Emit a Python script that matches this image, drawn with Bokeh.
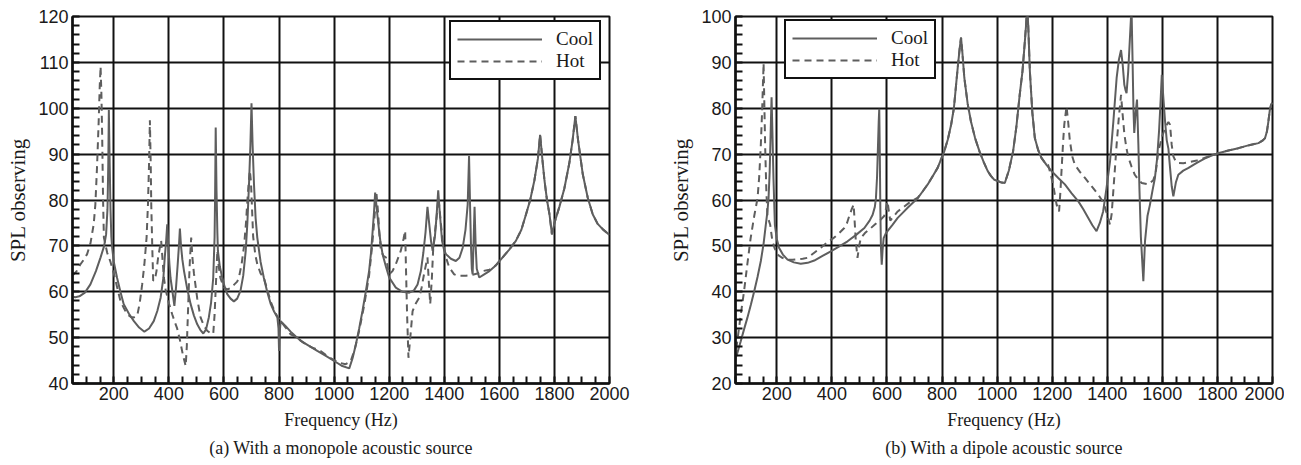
from bokeh.plotting import figure
from bokeh.models import Range1d, FixedTicker, Title, Legend, LegendItem
from bokeh.layouts import row
from bokeh.embed import file_html
from bokeh.resources import INLINE

# ---------------- (a) monopole source ----------------
mono_cool_f = [50, 60, 75, 95, 115, 135, 152, 165, 172, 177, 180, 182, 185, 188, 191, 194, 200, 212, 224, 236,
               255, 273, 292, 311, 328, 345, 358, 370, 380, 385, 390, 394, 398, 402, 406, 413, 420, 426, 432, 437,
               440, 444, 449, 455, 467, 479, 491, 503, 514, 525, 535, 545, 553, 561, 566, 568, 570, 573, 576, 578,
               585, 594, 603, 612, 624, 636, 648, 660, 670, 679, 685, 691, 696, 700, 704, 709, 715, 721, 733, 745,
               757, 770, 782, 794, 798, 800, 802, 806, 824, 842, 860, 879, 909, 939, 970, 1000, 1030, 1055, 1067, 1079,
               1091, 1103, 1115, 1127, 1134, 1140, 1145, 1149, 1155, 1161, 1168, 1176, 1188, 1200, 1224, 1248, 1273, 1290, 1303, 1315,
               1324, 1332, 1339, 1345, 1352, 1358, 1366, 1372, 1378, 1384, 1392, 1399, 1406, 1424, 1442, 1455, 1467, 1477, 1485, 1490,
               1494, 1497, 1500, 1503, 1506, 1510, 1514, 1518, 1527, 1545, 1564, 1588, 1612, 1636, 1660, 1680, 1697, 1712, 1727, 1740,
               1748, 1756, 1764, 1773, 1782, 1791, 1800, 1818, 1836, 1854, 1866, 1876, 1886, 1903, 1921, 1939, 1957, 1976, 2000]
mono_cool_spl = [58.9, 58.8, 59.0, 59.8, 61.6, 64.5, 67.5, 70.0, 72.5, 78, 88, 99.6, 88, 78, 72, 69.6, 66.5, 63, 60, 57.3,
                 55.2, 53.6, 52.2, 51.3, 52.0, 53.6, 55.8, 58.7, 63, 67.5, 71, 74.7, 70, 66, 63, 60, 56.9, 61, 66, 70.5,
                 73.8, 70, 67, 64.5, 60.5, 57.3, 54.8, 52.9, 51.7, 50.9, 51.8, 54.4, 57.5, 63, 72, 82, 95.8, 82, 73, 68.9,
                 65.5, 63, 61, 59.5, 58.5, 57.9, 58.5, 60.2, 63.5, 68.9, 75, 83.5, 92, 101.1, 92, 83.5, 76, 71.8, 66.5, 63,
                 60, 57.3, 55.7, 54.4, 52, 47.1, 51, 53.6, 52.5, 51.3, 50.3, 49.3, 48.2, 47.1, 46.0, 44.9, 43.8, 43.3, 45.5, 48.5,
                 52, 55.8, 60, 64.5, 68.5, 73.3, 77.5, 81.6, 78, 74.5, 71, 68.2, 65.5, 63.1, 60.9, 60.0, 59.8, 60.3, 61.6, 64.5,
                 68.5, 73, 78.5, 75, 71, 68.9, 72, 76.5, 82.1, 77, 71.1, 69.2, 68.2, 67.2, 66.7, 67.4, 69.6, 73.5, 79, 89.6,
                 78, 70, 65, 63.8, 70, 78.5, 70, 65, 63.1, 63.8, 64.5, 65.8, 67.5, 69.2, 71.1, 73.5, 76.9, 80, 84.2, 89,
                 94.2, 89, 84.2, 80, 76.9, 72.5, 75, 78.5, 82.5, 88, 93, 98.3, 93, 85.6, 80.5, 76.9, 74.8, 73.6, 72.4]

mono_hot_f_low = [50, 65, 79, 91, 103, 115, 127, 133, 139, 145, 149, 152, 155, 158, 161, 164, 176, 188, 200, 212,
                  224, 236, 248, 262, 273, 285, 294, 303, 311, 319, 324, 328, 331, 334, 336, 340, 343, 349, 355, 361,
                  367, 372, 377, 382, 388, 400, 412, 421, 430, 440, 450, 461, 465, 469, 473, 476, 481, 486, 491, 503,
                  515, 527, 539, 550, 561, 566, 571, 576, 580, 587, 600, 612, 624, 636, 648, 654, 664, 673, 680, 685,
                  690, 694, 698, 702, 706, 714, 721, 733, 745, 757, 770, 782, 794, 806, 824, 842, 860, 891, 921, 951,
                  980, 1000, 1020, 1042, 1060, 1075, 1091, 1109, 1127, 1138, 1145, 1150, 1154, 1160, 1165, 1170, 1179, 1188, 1200, 1212,
                  1224, 1242, 1252, 1258, 1261, 1265, 1270, 1278, 1285, 1297, 1309, 1318, 1327, 1339, 1344, 1349, 1355, 1360, 1370, 1379,
                  1386, 1394, 1406, 1418, 1436, 1450, 1479, 1503, 1527, 1539, 1564, 1576, 1588]
mono_hot_spl_low = [63.5, 64.5, 66, 67, 68.2, 70.5, 74.7, 79, 87.1, 97, 105, 109.1, 103, 93, 80, 71.8, 68.5, 66.5, 64, 61,
                    58, 56.5, 55.1, 54.5, 54.4, 54.8, 57.5, 61.6, 66, 71.8, 79, 88, 97.4, 88, 79, 69, 62.4, 62.6, 64.5, 67.5,
                    69.6, 71.1, 67, 63, 60.5, 57.5, 55.1, 53.5, 52, 49.5, 46.5, 43.8, 48, 55, 62, 66.5, 71.8, 67, 64, 58.5,
                    54.4, 52.6, 51.5, 51, 50.8, 55, 62, 69, 66, 63, 60.9, 60.5, 60.8, 61.5, 62.2, 63, 66, 70, 75, 79.8,
                    84, 86.4, 84, 78, 72, 68, 66, 64, 63, 60.5, 57.8, 56, 54.6, 53.6, 52.2, 50.7, 50.2, 48.8, 47.8, 47.1,
                    45.8, 45.1, 44.5, 44.2, 44.8, 47.5, 51.5, 57, 63.5, 70, 75, 79, 81.3, 77, 72, 69, 67.8, 67.5, 63.8, 64.5,
                    66, 68.9, 71.5, 73.3, 65, 55, 45.6, 51, 55.8, 57.5, 58.7, 61, 64, 67.5, 62, 57.3, 63, 69.6, 75, 80.5,
                    76, 71.1, 67.5, 65.3, 63.8, 63.5, 63.5, 63.7, 64.1, 64.5, 64.8, 65.3, 65.8]
# above 1600 Hz the hot curve lies on the cool curve
mono_hot_f = mono_hot_f_low + [f for f in mono_cool_f if f >= 1612]
mono_hot_spl = mono_hot_spl_low + [v for f, v in zip(mono_cool_f, mono_cool_spl) if f >= 1612]

# ---------------- (b) dipole source ----------------
dip_cool_f = [50, 55, 69, 81, 93, 106, 118, 130, 142, 152, 160, 166, 170, 174, 177, 179, 181, 184, 188, 193,
              200, 208, 222, 239, 262, 287, 312, 336, 366, 396, 427, 457, 488, 518, 537, 548, 556, 560, 564, 567,
              570, 572, 574, 576, 578, 581, 584, 588, 595, 602, 620, 639, 657, 675, 694, 712, 730, 748, 766, 784,
              796, 808, 821, 833, 843, 851, 858, 864, 869, 874, 881, 893, 905, 920, 936, 951, 966, 978, 990, 1004,
              1016, 1028, 1043, 1058, 1070, 1082, 1092, 1100, 1105, 1109, 1113, 1119, 1128, 1137, 1149, 1161, 1180, 1198, 1222, 1246,
              1270, 1295, 1313, 1331, 1346, 1361, 1373, 1385, 1397, 1410, 1422, 1434, 1442, 1450, 1456, 1462, 1466, 1470, 1476, 1482,
              1488, 1492, 1495, 1498, 1503, 1508, 1513, 1517, 1522, 1531, 1537, 1546, 1555, 1564, 1573, 1581, 1588, 1594, 1598, 1604,
              1610, 1616, 1622, 1628, 1634, 1640, 1649, 1658, 1676, 1695, 1725, 1755, 1779, 1803, 1840, 1876, 1912, 1949, 1965, 1973,
              1980, 1985, 1990, 1995, 2000]
dip_cool_spl = [25.5, 26.3, 29.2, 31.8, 34.3, 37.2, 40.1, 43.2, 46.7, 50.5, 54.6, 57.5, 60.4, 66, 73, 78, 82.4, 75, 64.5, 54.6,
                51.5, 49.6, 48.1, 47, 46.4, 46.1, 46.3, 46.8, 47.8, 48.8, 49.9, 51, 52.4, 53.9, 55.5, 56.8, 58.5, 60.4, 65, 71,
                77, 79.9, 70, 58, 50, 45.9, 49, 51.7, 52.6, 53.2, 54.6, 56.1, 57.2, 58.3, 59.4, 60.4, 61.9, 63.4, 65.2, 67,
                68.8, 70.6, 73.2, 76.4, 80, 85.1, 89.5, 93, 95.4, 92, 86.6, 81, 77.1, 73.5, 70.6, 68.3, 66.3, 65.2, 64.4, 64.1,
                63.8, 63.7, 66.5, 70.6, 76, 82.9, 88, 94, 98, 102, 98, 88, 79, 73.5, 70.9, 69.2, 67.6, 66.3, 64.8, 63.4,
                61.5, 59.7, 58, 56.1, 54.5, 53.2, 55, 57.5, 62.5, 68.4, 77, 86.6, 90.5, 92.7, 89.5, 85.1, 84, 83.3, 88, 95,
                102, 90, 80, 74.6, 79, 81.9, 72, 62, 52, 42.3, 51, 56.5, 59, 62, 64.8, 69, 75, 82, 87.3, 82,
                77.1, 73, 71.2, 67, 63, 60.8, 63.8, 65.5, 66.4, 67, 68.1, 69.1, 69.7, 70.2, 70.8, 71.3, 71.9, 72.4, 73, 73.5,
                75, 77.1, 79.5, 80.8, 81.2]

dip_hot_f_low = [50, 55, 68, 81, 93, 105, 118, 130, 136, 142, 147, 150, 152, 155, 158, 162, 166, 176, 184, 192,
                 202, 220, 239, 257, 275, 294, 312, 336, 360, 384, 408, 427, 445, 455, 463, 472, 479, 483, 487, 493,
                 499, 505, 520, 542, 557, 572, 590, 596, 602, 607, 612, 625, 639, 663, 687, 712]
dip_hot_spl_low = [25, 28.5, 34.5, 40.1, 46, 51.7, 56.5, 60.4, 65, 72.1, 80, 86, 89.8, 80, 71, 62, 56.5, 54.6, 51, 49.5,
                   48.1, 47.4, 47, 47, 47.1, 47.2, 47.4, 48.5, 49.6, 50.8, 51.8, 52.8, 53.9, 55, 56.5, 58, 59, 55, 51, 47.4,
                   50, 51.7, 52.8, 53.9, 54.7, 55.4, 56.5, 58, 59.7, 57.5, 55.5, 56.5, 57.5, 58.6, 59.7, 60.5]
dip_hot_f_high = [1185, 1195, 1204, 1210, 1216, 1225, 1230, 1234, 1240, 1244, 1252, 1258, 1264, 1273, 1282, 1300, 1319, 1343, 1367, 1380,
                  1391, 1401, 1410, 1416, 1422, 1428, 1434, 1442, 1450, 1456, 1462, 1469, 1476, 1488, 1500, 1512, 1525, 1549, 1567, 1576,
                  1585, 1600, 1612, 1622, 1628, 1634, 1640, 1649, 1658, 1676, 1695, 1725, 1755, 1780]
dip_hot_spl_high = [67.7, 65.5, 63.2, 61, 59, 57.5, 62, 66.5, 73, 76.5, 80.4, 77, 73, 69.5, 67.7, 66.2, 64.8, 63, 61.2, 60,
                    58.5, 56.5, 54.6, 57, 62, 67, 72.1, 78, 82.9, 78.5, 74.4, 71.5, 69.4, 67.3, 65.5, 64.5, 63.7, 63.4, 64.3, 66,
                    70.5, 74, 76, 77, 76.4, 72, 69.5, 68.4, 68.1, 68, 68.2, 68.6, 69.2, 69.7]
# between ~730 and ~1180 Hz, and above ~1800 Hz, the hot curve lies on the cool curve
dip_hot_f = (dip_hot_f_low + [f for f in dip_cool_f if 730 <= f <= 1180]
             + dip_hot_f_high + [f for f in dip_cool_f if f >= 1803])
dip_hot_spl = (dip_hot_spl_low + [v for f, v in zip(dip_cool_f, dip_cool_spl) if 730 <= f <= 1180]
               + dip_hot_spl_high + [v for f, v in zip(dip_cool_f, dip_cool_spl) if f >= 1803])

x_ticks = [200, 400, 600, 800, 1000, 1200, 1400, 1600, 1800, 2000]
x_minor = list(range(50, 2001, 50))

SERIF = "Liberation Serif"
SANS = "Liberation Sans"
LINE_COLOR = "#5e5e5e"


def make_fig(ymin, ymax, cool_f, cool_v, hot_f, hot_v, subtitle, legend_loc, border_left, border_right):
    p = figure(frame_width=537, frame_height=367,
               x_range=Range1d(50, 2000), y_range=Range1d(ymin, ymax),
               output_backend="svg", toolbar_location=None,
               min_border_left=border_left, min_border_right=border_right,
               min_border_top=16, min_border_bottom=4)
    p.background_fill_color = "white"
    p.border_fill_color = "white"
    p.outline_line_color = "#111111"
    p.outline_line_width = 2
    p.outline_line_alpha = 1

    p.xaxis.ticker = FixedTicker(ticks=x_ticks, minor_ticks=x_minor)
    p.yaxis.ticker = FixedTicker(ticks=list(range(ymin, ymax + 1, 10)),
                                 minor_ticks=list(range(ymin, ymax + 1, 2)))
    for ax in (p.xaxis[0], p.yaxis[0]):
        ax.axis_line_color = "#111111"
        ax.axis_line_width = 2.5
        ax.major_tick_in = 0
        ax.major_tick_out = 0
        ax.minor_tick_in = 7
        ax.minor_tick_out = 0
        ax.minor_tick_line_color = "#111111"
        ax.minor_tick_line_width = 2
        ax.major_label_text_font = SANS
        ax.major_label_text_font_size = "18px"
        ax.major_label_text_color = "#1a1a1a"
        ax.axis_label_text_font = SERIF
        ax.axis_label_text_font_style = "normal"
        ax.axis_label_text_color = "#1a1a1a"
    p.xaxis.major_label_standoff = 3
    p.yaxis.major_label_standoff = 4
    p.xaxis.axis_label = "Frequency (Hz)"
    p.xaxis.axis_label_text_font_size = "18px"
    p.xaxis.axis_label_standoff = 7
    p.yaxis.axis_label = "SPL observing"
    p.yaxis.axis_label_text_font_size = "21px"
    p.yaxis.axis_label_standoff = 5

    p.grid.grid_line_color = "#111111"
    p.grid.grid_line_width = 2
    p.grid.grid_line_alpha = 1

    r_cool = p.line(cool_f, cool_v, line_color=LINE_COLOR, line_width=2)
    r_hot = p.line(hot_f, hot_v, line_color=LINE_COLOR, line_width=2, line_dash="7 5")

    legend = Legend(items=[LegendItem(label="Cool", renderers=[r_cool]),
                           LegendItem(label="Hot", renderers=[r_hot])],
                    location=legend_loc, orientation="vertical")
    legend.glyph_width = 85
    legend.glyph_height = 20
    legend.label_height = 20
    legend.label_standoff = 14
    legend.padding = 6
    legend.spacing = 0
    legend.margin = 0
    legend.label_text_font = SERIF
    legend.label_text_font_size = "19px"
    legend.label_text_color = "#1a1a1a"
    legend.border_line_color = "#111111"
    legend.border_line_width = 2.5
    legend.border_line_alpha = 1
    legend.background_fill_color = "white"
    legend.background_fill_alpha = 1
    p.add_layout(legend, "center")

    t = Title(text=subtitle, align="center", text_font=SERIF, text_font_size="18px",
              text_font_style="normal", text_color="#1a1a1a", standoff=6)
    p.add_layout(t, "below")
    return p


p1 = make_fig(40, 120, mono_cool_f, mono_cool_spl, mono_hot_f, mono_hot_spl,
              "(a) With a monopole acoustic source", (377, 303), 72, 57)
p2 = make_fig(20, 100, dip_cool_f, dip_cool_spl, dip_hot_f, dip_hot_spl,
              "(b) With a dipole acoustic source", (49, 304), 64, 12)

layout = row(p1, p2)
open("out.html", "w").write(file_html(layout, INLINE))
